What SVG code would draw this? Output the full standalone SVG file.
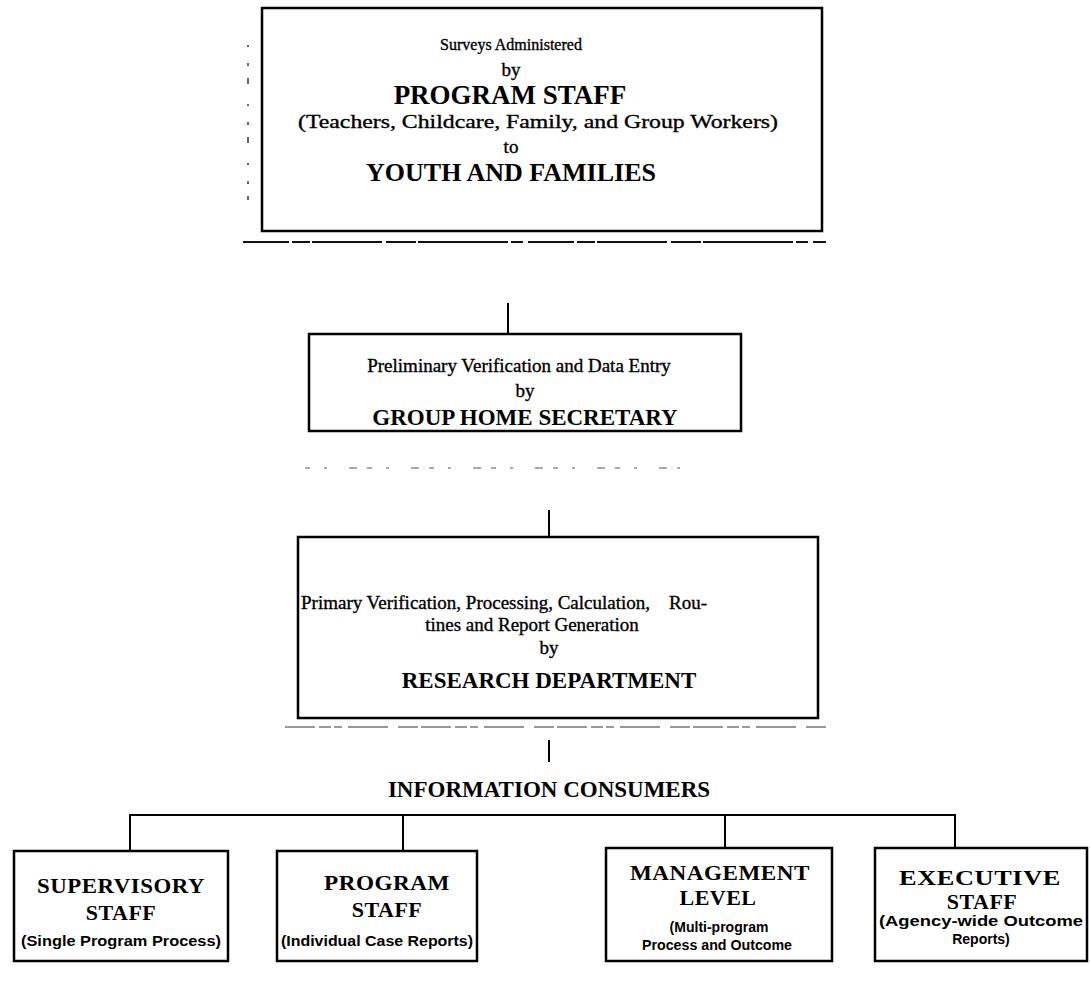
<svg xmlns="http://www.w3.org/2000/svg" width="1090" height="997" viewBox="0 0 1090 997">
  <style>
    .box { fill: #fff; stroke: #000; stroke-width: 2.5; }
    .wire { fill: none; stroke: #000; stroke-width: 2; }
    .rule { fill: none; stroke: #111; stroke-width: 2; stroke-dasharray: 46 3 18 2 70 4 30 2 90 3 12 5; }
    .rule-thin { fill: none; stroke: #333; stroke-width: 1.2; stroke-dasharray: 30 4 12 3 8 6 40 10 20 3; }
    .faint { fill: none; stroke: #555; stroke-width: 1; stroke-dasharray: 5 14 3 22 8 10; }
    .speck { fill: none; stroke: #333; stroke-width: 1.5; stroke-dasharray: 2 16 3 12 6 20; }
    .sm { font-family: "Liberation Serif", "Times New Roman", serif; font-size: 19px; fill: #000; text-anchor: middle; stroke: #000; stroke-width: 0.35; }
    .big { font-family: "Liberation Serif", "Times New Roman", serif; font-size: 23px; font-weight: bold; fill: #000; text-anchor: middle; }
    .cap { font-family: "Liberation Serif", "Times New Roman", serif; font-size: 22px; font-weight: bold; fill: #000; text-anchor: middle; letter-spacing: 0.5px; }
    .note { font-family: "Liberation Sans", Arial, sans-serif; font-size: 14px; font-weight: bold; fill: #000; text-anchor: middle; }
  </style>

  <rect width="1090" height="997" fill="#fff"/>

  <!-- connectors -->
  <g id="connectors">
    <line class="wire" x1="508" y1="303" x2="508" y2="334"/>
    <line class="wire" x1="549" y1="510" x2="549" y2="537"/>
    <line class="wire" x1="549" y1="740" x2="549" y2="762"/>
    <polyline class="wire" points="130,851 130,815 955,815 955,848"/>
    <line class="wire" x1="403" y1="815" x2="403" y2="851"/>
    <line class="wire" x1="725" y1="815" x2="725" y2="848"/>
  </g>

  <!-- printed rules and specks around the upper boxes -->
  <g id="rules">
    <line class="rule" x1="243" y1="242" x2="826" y2="242"/>
    <line class="faint" x1="305" y1="468" x2="680" y2="468"/>
    <line class="rule-thin" x1="285" y1="727" x2="828" y2="727"/>
    <line class="speck" x1="248" y1="45" x2="248" y2="200"/>
  </g>

  <g id="surveys">
    <rect class="box" x="262" y="8" width="560" height="223"/>
    <text class="sm" x="511" y="50" style="font-size:16px">Surveys Administered</text>
    <text class="sm" x="511" y="76">by</text>
    <text class="big" x="510" y="104" style="font-size:27px">PROGRAM STAFF</text>
    <text class="sm" x="538" y="128" textLength="480" lengthAdjust="spacingAndGlyphs">(Teachers, Childcare, Family, and Group Workers)</text>
    <text class="sm" x="511" y="153">to</text>
    <text class="big" x="511" y="181" style="font-size:26px">YOUTH AND FAMILIES</text>
  </g>

  <g id="secretary">
    <rect class="box" x="309" y="334" width="432" height="97"/>
    <text class="sm" x="519" y="372">Preliminary Verification and Data Entry</text>
    <text class="sm" x="525" y="397">by</text>
    <text class="big" x="525" y="425">GROUP HOME SECRETARY</text>
  </g>

  <g id="research">
    <rect class="box" x="298" y="537" width="520" height="181"/>
    <text class="sm" x="504" y="609" textLength="406" lengthAdjust="spacingAndGlyphs" xml:space="preserve">Primary Verification, Processing, Calculation,    Rou-</text>
    <text class="sm" x="532" y="631">tines and Report Generation</text>
    <text class="sm" x="549" y="654">by</text>
    <text class="big" x="549" y="688">RESEARCH DEPARTMENT</text>
  </g>

  <g id="consumers">
    <text class="big" x="549" y="797">INFORMATION CONSUMERS</text>
  </g>

  <g id="supervisory">
    <rect class="box" x="14" y="851" width="214" height="110"/>
    <text class="cap" x="121" y="893" textLength="168" lengthAdjust="spacingAndGlyphs">SUPERVISORY</text>
    <text class="cap" x="121" y="920">STAFF</text>
    <text class="note" x="121" y="946" textLength="200" lengthAdjust="spacingAndGlyphs">(Single Program Process)</text>
  </g>

  <g id="program">
    <rect class="box" x="277" y="851" width="200" height="110"/>
    <text class="cap" x="387" y="890" textLength="126" lengthAdjust="spacingAndGlyphs">PROGRAM</text>
    <text class="cap" x="387" y="917">STAFF</text>
    <text class="note" x="377" y="946" textLength="192" lengthAdjust="spacingAndGlyphs">(Individual Case Reports)</text>
  </g>

  <g id="management">
    <rect class="box" x="606" y="848" width="226" height="113"/>
    <text class="cap" x="720" y="880" textLength="180" lengthAdjust="spacingAndGlyphs">MANAGEMENT</text>
    <text class="cap" x="718" y="905">LEVEL</text>
    <text class="note" x="719" y="932">(Multi-program</text>
    <text class="note" x="717" y="950" textLength="150" lengthAdjust="spacingAndGlyphs">Process and Outcome</text>
  </g>

  <g id="executive">
    <rect class="box" x="875" y="848" width="212" height="113"/>
    <text class="cap" x="980" y="885" textLength="162" lengthAdjust="spacingAndGlyphs">EXECUTIVE</text>
    <text class="cap" x="982" y="909">STAFF</text>
    <text class="note" x="981" y="926" textLength="204" lengthAdjust="spacingAndGlyphs">(Agency-wide Outcome</text>
    <text class="note" x="981" y="944">Reports)</text>
  </g>
</svg>
